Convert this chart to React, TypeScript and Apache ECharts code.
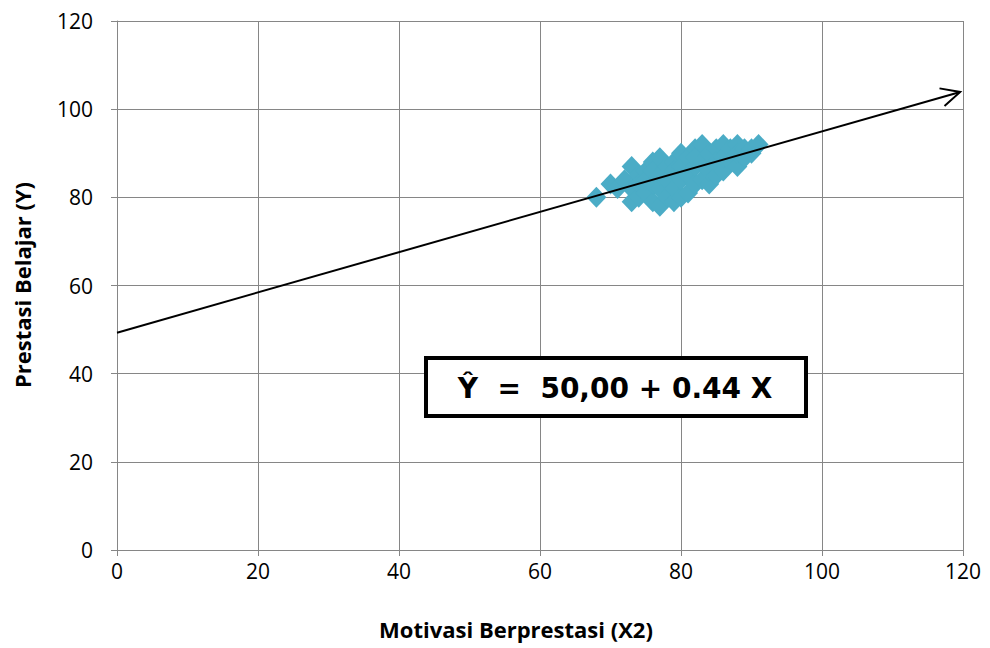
import React, { useEffect, useRef } from "react";
import * as echarts from "echarts";

const motivasiX2 = [68, 70, 71, 72, 73, 73, 73, 74, 74, 74, 75, 75, 75, 76, 76, 76, 76, 77, 77, 77, 77, 78, 78, 78, 79, 79, 79, 79, 80, 80, 80, 80, 81, 81, 81, 82, 82, 82, 82, 83, 83, 83, 84, 84, 84, 85, 85, 85, 86, 86, 86, 87, 87, 88, 88, 88, 89, 89, 90, 90, 91];
const prestasiY = [80, 83, 82, 84, 87, 79, 82, 85, 80, 83, 86, 81, 84, 88, 79, 83, 86, 89, 78, 82, 85, 87, 80, 84, 88, 79, 82, 86, 90, 80, 84, 87, 89, 81, 85, 91, 83, 87, 89, 92, 84, 88, 90, 83, 86, 91, 85, 88, 92, 86, 89, 91, 88, 92, 87, 90, 91, 89, 90, 91, 92];
const regLineStart = [0, 49.3];
const regLineEnd = [119.6, 103.9];
const xTicks = [0, 20, 40, 60, 80, 100, 120];
const yTicks = [0, 20, 40, 60, 80, 100, 120];
const equationText = "Ŷ  =  50,00 + 0.44 X";

export default function App() {
  const ref = useRef<HTMLDivElement>(null);
  useEffect(() => {
    if (!ref.current) return;
    const chart = echarts.init(ref.current, null, { renderer: "svg" });
    const points = motivasiX2.map((x, i) => [x, prestasiY[i]]);
    const gray = "#868686";
    const font = "'Open Sans', sans-serif";
    chart.setOption({
      animation: false,
      backgroundColor: "#ffffff",
      grid: { left: 117, right: 27, top: 21, bottom: 98 },
      xAxis: {
        type: "value",
        min: xTicks[0],
        max: xTicks[xTicks.length - 1],
        interval: 20,
        axisLine: { show: true, onZero: false, lineStyle: { color: gray, width: 1 } },
        axisTick: { show: true, length: 6, lineStyle: { color: gray } },
        splitLine: { show: true, lineStyle: { color: gray, width: 1 } },
        axisLabel: { color: "#000", fontSize: 21, fontFamily: font, margin: 10 },
      },
      yAxis: {
        type: "value",
        min: yTicks[0],
        max: yTicks[yTicks.length - 1],
        interval: 20,
        axisLine: { show: true, onZero: false, lineStyle: { color: gray, width: 1 } },
        axisTick: { show: true, length: 6, lineStyle: { color: gray } },
        splitLine: { show: true, lineStyle: { color: gray, width: 1 } },
        axisLabel: { color: "#000", fontSize: 21, fontFamily: font, margin: 24 },
      },
      series: [
        {
          type: "scatter",
          data: points,
          symbol: "diamond",
          symbolSize: [20, 21],
          itemStyle: { color: "#4BACC6", opacity: 1 },
          z: 2,
        },
        {
          type: "custom",
          data: [0],
          z: 5,
          renderItem: (params: any, api: any) => {
            const a = api.coord(regLineStart);
            const b = api.coord(regLineEnd);
            const dx = b[0] - a[0];
            const dy = b[1] - a[1];
            const len = Math.sqrt(dx * dx + dy * dy);
            const ux = dx / len;
            const uy = dy / len;
            const L = 21;
            const ang = 0.45;
            const cos = Math.cos(ang);
            const sin = Math.sin(ang);
            const l1 = [b[0] - L * (ux * cos - uy * sin), b[1] - L * (uy * cos + ux * sin)];
            const l2 = [b[0] - L * (ux * cos + uy * sin), b[1] - L * (uy * cos - ux * sin)];
            return {
              type: "group",
              children: [
                { type: "line", shape: { x1: a[0], y1: a[1], x2: b[0], y2: b[1] }, style: { stroke: "#000", lineWidth: 2 } },
                { type: "polyline", shape: { points: [l1, b, l2] }, style: { stroke: "#000", lineWidth: 2, fill: "none" } },
              ],
            };
          },
        },
      ],
      graphic: [
        {
          type: "text",
          x: 22,
          y: 285,
          rotation: Math.PI / 2,
          style: { text: "Prestasi Belajar (Y)", font: `bold 22px ${font}`, fill: "#000", align: "center", verticalAlign: "middle" },
        },
        {
          type: "text",
          x: 516,
          y: 629,
          style: { text: "Motivasi Berprestasi (X2)", font: `bold 22px ${font}`, fill: "#000", align: "center", verticalAlign: "middle" },
        },
        {
          type: "rect",
          shape: { x: 426, y: 358, width: 380, height: 58 },
          style: { fill: "#fff", stroke: "#000", lineWidth: 4 },
          z: 10,
        },
        {
          type: "text",
          x: 615,
          y: 388,
          z: 11,
          style: { text: equationText, font: "bold 28px 'DejaVu Sans', Verdana, sans-serif", fill: "#000", align: "center", verticalAlign: "middle" },
        },
      ],
    });
    return () => chart.dispose();
  }, []);
  return <div ref={ref} style={{ position: "fixed", left: 0, top: 0, width: 990, height: 648 }} />;
}
